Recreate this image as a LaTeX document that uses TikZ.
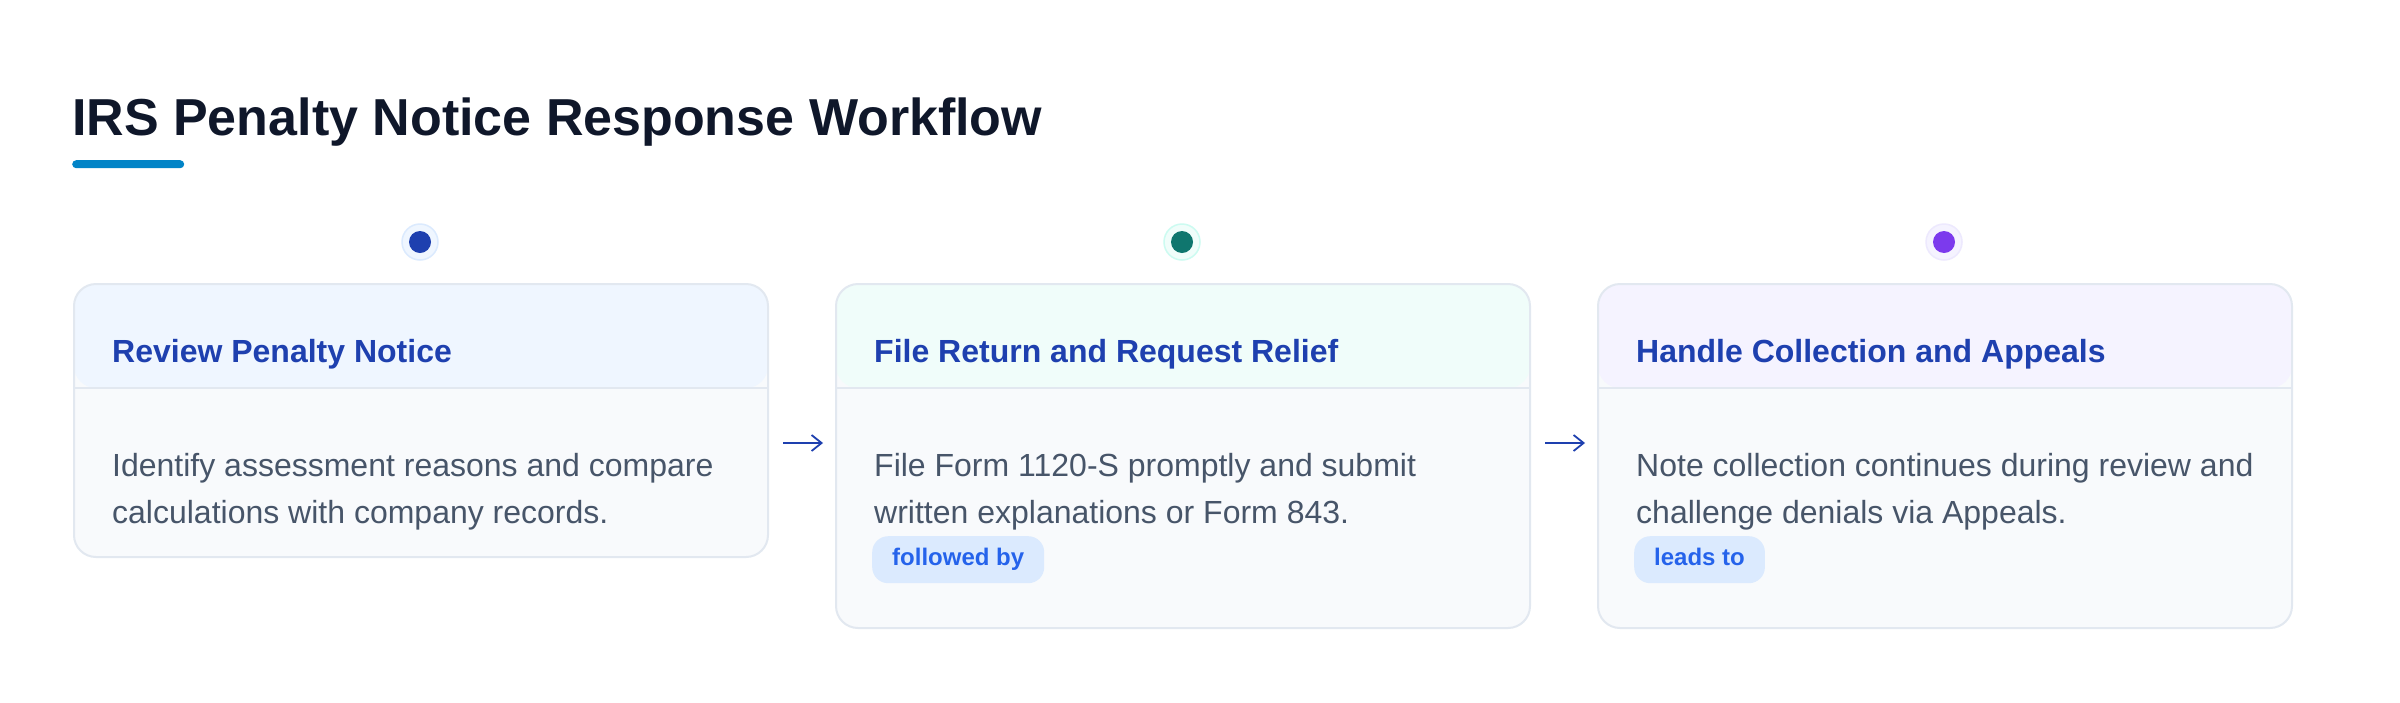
\documentclass[tikz,border=0pt]{standalone}
\usepackage{fontspec}
\setmainfont{Liberation Sans}
\usetikzlibrary{arrows.meta}

\definecolor{titleink}{HTML}{0F172A}
\definecolor{barblue}{HTML}{0284C7}
\definecolor{headink}{HTML}{1E40AF}
\definecolor{bodyink}{HTML}{475569}
\definecolor{cardline}{HTML}{E2E8F0}
\definecolor{cardbody}{HTML}{F8FAFC}
\definecolor{tagfill}{HTML}{DBEAFE}
\definecolor{tagink}{HTML}{2563EB}
\definecolor{bluetint}{HTML}{EFF6FF}
\definecolor{tealtint}{HTML}{F0FDFA}
\definecolor{violettint}{HTML}{F5F3FF}
\definecolor{bluering}{HTML}{DBEAFE}
\definecolor{tealring}{HTML}{CCFBF1}
\definecolor{violetring}{HTML}{EDE9FE}
\definecolor{bluedot}{HTML}{1E40AF}
\definecolor{tealdot}{HTML}{0F766E}
\definecolor{violetdot}{HTML}{7C3AED}

\begin{document}
\begin{tikzpicture}[x=1pt, y=-1pt,
    % Define styles
    card/.style={rectangle, rounded corners=22pt, draw=cardline, line width=2pt, fill=cardbody, minimum width=694pt, anchor=north west, inner sep=0pt,
        path picture={
            \fill[#1] (path picture bounding box.north west) rectangle ([yshift=-104pt]path picture bounding box.north east);
            \draw[cardline, line width=2pt] ([yshift=-104pt]path picture bounding box.north west) -- ([yshift=-104pt]path picture bounding box.north east);
        }},
    heading/.style={anchor=base west, inner sep=0pt, text=headink, font=\fontsize{32}{38}\selectfont\bfseries},
    body/.style={anchor=base west, inner sep=0pt, align=left, text=bodyink, font=\fontsize{32}{47}\selectfont},
    tag/.style={rectangle, rounded corners=16pt, fill=tagfill, text=tagink, font=\fontsize{24}{28}\selectfont\bfseries, anchor=north west, inner xsep=20pt, inner ysep=0pt, minimum height=47pt, text height=17pt, text depth=5pt},
    halo/.style={circle, minimum size=36pt, inner sep=0pt, line width=1.5pt},
    dot/.style={circle, minimum size=22pt, inner sep=0pt},
    flow/.style={-{Straight Barb[length=10pt, width=16pt]}, line width=1.8pt, draw=headink, shorten <=14pt, shorten >=12pt}
]
\useasboundingbox[fill=white] (0,0) rectangle (2400,702);

% Title
\node[anchor=base west, inner sep=0pt, text=titleink, font=\fontsize{52}{62}\selectfont\bfseries] (title) at (72,135) {IRS Penalty Notice Response Workflow};
\node[fill=barblue, rounded corners=4pt, minimum width=112pt, minimum height=8pt, inner sep=0pt, anchor=north west] (title_bar) at (72,160) {};

% Review step
\node[halo, fill=bluetint, draw=bluering] (review_halo) at (420,242) {};
\node[dot, fill=bluedot] (review_dot) at (review_halo) {};
\node[card=bluetint, minimum height=273pt] (review_card) at (73,283) {};
\node[heading] (review_head) at (112,362) {Review Penalty Notice};
\node[body] (review_text) at (112,523) {Identify assessment reasons and compare\\calculations with company records.};

% File step
\node[halo, fill=tealtint, draw=tealring] (file_halo) at (1182,242) {};
\node[dot, fill=tealdot] (file_dot) at (file_halo) {};
\node[card=tealtint, minimum height=344pt] (file_card) at (835,283) {};
\node[heading] (file_head) at (874,362) {File Return and Request Relief};
\node[body] (file_text) at (874,523) {File Form 1120-S promptly and submit\\written explanations or Form 843.};
\node[tag] (file_tag) at (872,536) {followed by};

% Appeals step
\node[halo, fill=violettint, draw=violetring] (appeal_halo) at (1944,242) {};
\node[dot, fill=violetdot] (appeal_dot) at (appeal_halo) {};
\node[card=violettint, minimum height=344pt] (appeal_card) at (1597,283) {};
\node[heading] (appeal_head) at (1636,362) {Handle Collection and Appeals};
\node[body] (appeal_text) at (1636,523) {Note collection continues during review and\\challenge denials via Appeals.};
\node[tag] (appeal_tag) at (1634,536) {leads to};

% Flow arrows
\coordinate (flow_row) at (0,443);
\draw[flow] (review_card.east |- flow_row) -- (file_card.west |- flow_row);
\draw[flow] (file_card.east |- flow_row) -- (appeal_card.west |- flow_row);

\end{tikzpicture}
\end{document}
